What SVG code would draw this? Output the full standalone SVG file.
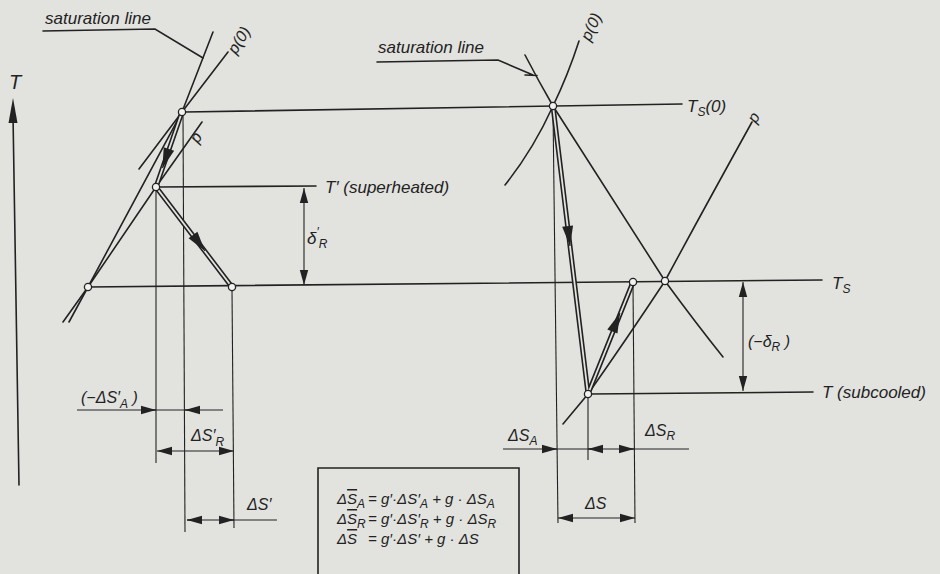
<svg xmlns="http://www.w3.org/2000/svg" width="940" height="574" viewBox="0 0 940 574">
<style>
.ln{fill:none;stroke:#222;stroke-width:1.6;stroke-linecap:round}
.th{fill:none;stroke:#222;stroke-width:1.1}
.dbl{fill:none;stroke:#222;stroke-width:5;stroke-linecap:round}
.dbi{fill:none;stroke:#e2e2df;stroke-width:1.8;stroke-linecap:round}
.pt{fill:#f2f2f0;stroke:#222;stroke-width:1.3}
text{font-family:"Liberation Sans","DejaVu Sans",sans-serif;font-style:italic;fill:#222}
.lab{font-size:17px}
.dim{font-size:16px}
.f{font-size:15px}
.sub{font-size:12px}
</style>
<defs>
<marker id="a" viewBox="-15 -5 16 10" refX="0" refY="0" markerWidth="16" markerHeight="10" orient="auto-start-reverse" markerUnits="userSpaceOnUse"><path d="M0,0 L-15,-4.2 L-15,4.2 Z" fill="#222"/></marker>
<marker id="b" viewBox="-21 -6 22 12" refX="0" refY="0" markerWidth="22" markerHeight="12" orient="auto" markerUnits="userSpaceOnUse"><path d="M0,0 L-20,-5.5 L-20,5.5 Z" fill="#222"/></marker>
</defs>
<rect width="940" height="574" fill="#e2e2df"/>

<g id="axis">
<line class="ln" x1="13" y1="115" x2="19" y2="485"/>
<path d="M13,98 L8.5,123 L17.5,123 Z" fill="#222"/>
<text x="9" y="89" style="font-size:20px">T</text>
</g>

<g id="connectors">
<path id="sat-left" class="ln" d="M213,32 Q199,68 182,112 L88,287 L69,322"/>
<path id="p0-left" class="ln" d="M228,52 L182,112 L139,169"/>
<path id="p-left" class="ln" d="M202,122 L156,187 L88,287 L63,322"/>
<path id="sat-right" class="ln" d="M525,55 Q538,80 553,106 Q607,190 665,281 Q695,322 723,357"/>
<path id="p0-right" class="ln" d="M579,41 Q568,75 553,106 Q533,150 505,185"/>
<path id="p-right" class="ln" d="M752,122 Q706,205 665,281 Q626,340 588,394 L563,424"/>
<line class="ln" x1="185" y1="112" x2="682" y2="104"/>
<line class="ln" x1="158" y1="187" x2="316" y2="186"/>
<line class="ln" x1="88" y1="287" x2="822" y2="280"/>
<line class="ln" x1="590" y1="394" x2="813" y2="392"/>
<path class="ln" d="M43,31 L155,29 L203,58"/>
<path class="ln" d="M377,62 L498,60 L533,75 M525,75 L537,75.5"/>
<line class="th" x1="156" y1="190" x2="156" y2="463"/>
<line class="th" x1="183" y1="115" x2="185" y2="532"/>
<line class="th" x1="232" y1="290" x2="234" y2="528"/>
<line class="th" x1="553" y1="109" x2="558" y2="523"/>
<line class="th" x1="588" y1="397" x2="588" y2="460"/>
<line class="th" x1="633" y1="285" x2="635" y2="523"/>
<line class="th" x1="304" y1="188" x2="304" y2="285" marker-start="url(#a)" marker-end="url(#a)"/>
<line class="th" x1="743" y1="282" x2="743" y2="391" marker-start="url(#a)" marker-end="url(#a)"/>
<line class="th" x1="77" y1="410" x2="223" y2="410"/>
<line class="th" x1="148" y1="410" x2="156" y2="410" marker-end="url(#a)"/>
<line class="th" x1="193" y1="410" x2="185" y2="410" marker-end="url(#a)"/>
<line class="th" x1="157" y1="451" x2="234" y2="451" marker-start="url(#a)" marker-end="url(#a)"/>
<line class="th" x1="187" y1="520" x2="277" y2="520"/>
<line class="th" x1="195" y1="520" x2="187" y2="520" marker-end="url(#a)"/>
<line class="th" x1="226" y1="520" x2="234" y2="520" marker-end="url(#a)"/>
<line class="th" x1="503" y1="449" x2="689" y2="449"/>
<line class="th" x1="549" y1="449" x2="557" y2="449" marker-end="url(#a)"/>
<line class="th" x1="596" y1="449" x2="588" y2="449" marker-end="url(#a)"/>
<line class="th" x1="626" y1="449" x2="634" y2="449" marker-end="url(#a)"/>
<line class="th" x1="558" y1="518" x2="635" y2="518" marker-start="url(#a)" marker-end="url(#a)"/>
<path class="dbl" d="M182,112 L156,187 L232,287"/>
<path class="dbi" d="M182,112 L156,187 L232,287"/>
<path class="dbl" d="M553,106 L588,394 L633,282"/>
<path class="dbi" d="M553,106 L588,394 L633,282"/>
<line class="th" x1="164.1" y1="163.3" x2="162.5" y2="168" marker-end="url(#b)"/>
<line class="th" x1="202" y1="247" x2="205" y2="251" marker-end="url(#b)"/>
<line class="th" x1="569.4" y1="241" x2="570" y2="246" marker-end="url(#b)"/>
<line class="th" x1="618.1" y1="317.6" x2="620" y2="313" marker-end="url(#b)"/>
</g>

<g id="points">
<circle class="pt" cx="182" cy="112" r="3.6"/>
<circle class="pt" cx="156" cy="187" r="3.6"/>
<circle class="pt" cx="88" cy="287" r="3.6"/>
<circle class="pt" cx="232" cy="287" r="3.6"/>
<circle class="pt" cx="553" cy="106" r="3.6"/>
<circle class="pt" cx="665" cy="281" r="3.6"/>
<circle class="pt" cx="588" cy="394" r="3.6"/>
<circle class="pt" cx="633" cy="282" r="3.6"/>
</g>

<g id="labels">
<text class="lab" x="45" y="24">saturation line</text>
<text class="lab" x="378" y="53">saturation line</text>
<text class="dim" transform="translate(236,55) rotate(-58)">p(0)</text>
<text class="dim" transform="translate(198,144) rotate(-58)">p</text>
<text class="dim" transform="translate(590,42) rotate(-65)">p(0)</text>
<text class="dim" transform="translate(756,124) rotate(-60)">p</text>
<text class="lab" x="687" y="112">T<tspan class="sub" dy="4">S</tspan><tspan dy="-4">(0)</tspan></text>
<text class="lab" x="832" y="289">T<tspan class="sub" dy="4">S</tspan></text>
<text class="lab" x="325" y="193">T′ (superheated)</text>
<text class="lab" x="822" y="398">T (subcooled)</text>
<text class="lab" x="307" y="244">δ<tspan class="sub" dy="-8">′</tspan><tspan class="sub" dy="12">R</tspan></text>
<text class="dim" x="748" y="347">(−δ<tspan class="sub" dy="4">R</tspan><tspan dy="-4"> )</tspan></text>
<text class="dim" x="81" y="403">(−ΔS′<tspan class="sub" dy="5">A</tspan><tspan dy="-5"> )</tspan></text>
<text class="dim" x="191" y="441">ΔS′<tspan class="sub" dy="5">R</tspan></text>
<text class="dim" x="247" y="510">ΔS′</text>
<text class="dim" x="508" y="441">ΔS<tspan class="sub" dy="4">A</tspan></text>
<text class="dim" x="645" y="436">ΔS<tspan class="sub" dy="4">R</tspan></text>
<text class="dim" x="585" y="509">ΔS</text>
</g>

<g id="formula-box">
<path class="ln" d="M318,578 L318,468 L519,468 L519,578"/>
<text class="f" x="337" y="504">Δ<tspan style="text-decoration:overline">S</tspan><tspan class="sub" dy="4">A</tspan></text>
<text class="f" x="368" y="504">= g′·ΔS′<tspan class="sub" dy="4">A</tspan><tspan dy="-4"> + g · ΔS</tspan><tspan class="sub" dy="4">A</tspan></text>
<text class="f" x="337" y="524">Δ<tspan style="text-decoration:overline">S</tspan><tspan class="sub" dy="4">R</tspan></text>
<text class="f" x="368" y="524">= g′·ΔS′<tspan class="sub" dy="4">R</tspan><tspan dy="-4"> + g · ΔS</tspan><tspan class="sub" dy="4">R</tspan></text>
<text class="f" x="337" y="544">Δ<tspan style="text-decoration:overline">S</tspan></text>
<text class="f" x="368" y="544">= g′·ΔS′ + g · ΔS</text>
</g>
</svg>
